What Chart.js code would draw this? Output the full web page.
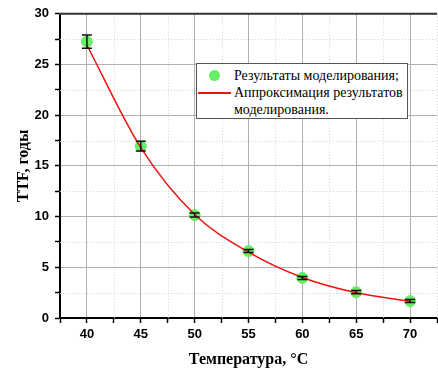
<!DOCTYPE html>
<html>
<head>
<meta charset="utf-8">
<script src="https://cdn.jsdelivr.net/npm/chart.js@4"></script>
<style>
  html, body { margin: 0; padding: 0; background: #fff; overflow: hidden; }
  #wrap { position: relative; width: 438px; height: 369px; overflow: hidden; }
  #myChart { position: absolute; left: 0; top: 0; }
  #legend {
    position: absolute; left: 196px; top: 63px; width: 210px; height: 54px;
    border: 1px solid #555; background: #fff;
    font-family: 'Liberation Serif', 'Times New Roman', serif; font-size: 14px; color: #000;
  }
  #legend .row { position: absolute; left: 37px; white-space: nowrap; line-height: 17px; }
  #legend .dot { position: absolute; left: 12px; top: 6px; width: 11px; height: 11px; border-radius: 50%; background: #66ee66; }
  #legend .line { position: absolute; left: 1px; top: 28px; width: 33px; height: 2px; background: #ee1111; }
</style>
</head>
<body>
<div id="wrap">
  <canvas id="myChart" width="441" height="369"></canvas>
  <div id="legend">
    <span class="dot"></span>
    <span class="line"></span>
    <div class="row" style="top:3px">Результаты моделирования;</div>
    <div class="row" style="top:20px">Аппроксимация результатов</div>
    <div class="row" style="top:37px">моделирования.</div>
  </div>
</div>
<script>
// temperature, °C
const temps = [40, 45, 50, 55, 60, 65, 70];
// simulated TTF, years, and half-width of the error bars
const ttf = [27.25, 16.95, 10.15, 6.6, 3.95, 2.55, 1.67];
const ttfErr = [0.65, 0.48, 0.2, 0.15, 0.15, 0.15, 0.15];
// approximation curve
const fitTTF = [26.9, 16.8, 10.2, 6.5, 4.0, 2.5, 1.65];

const ctx = document.getElementById('myChart');

const tickFont = { family: "'Liberation Sans', Arial, sans-serif", size: 13, weight: 'bold' };
const titleFont = { family: "'Liberation Serif', 'Times New Roman', serif", size: 16, weight: 'bold' };

const isMajor = v => Math.abs(v % 5) < 1e-6;

// dotted minor grid + top frame line
const frame = {
  id: 'frame',
  beforeDatasetsDraw(chart) {
    const { ctx, chartArea: a, scales } = chart;
    ctx.save();
    ctx.strokeStyle = '#d4d4d4';
    ctx.lineWidth = 1;
    ctx.setLineDash([1, 2]);
    scales.x.ticks.forEach(t => {
      if (isMajor(t.value) || t.value <= scales.x.min) return;
      const px = Math.round(scales.x.getPixelForValue(t.value)) + 0.5;
      ctx.beginPath(); ctx.moveTo(px, a.top); ctx.lineTo(px, a.bottom); ctx.stroke();
    });
    scales.y.ticks.forEach(t => {
      if (isMajor(t.value)) return;
      const py = Math.round(scales.y.getPixelForValue(t.value)) + 0.5;
      ctx.beginPath(); ctx.moveTo(a.left, py); ctx.lineTo(a.right, py); ctx.stroke();
    });
    ctx.setLineDash([]);
    ctx.strokeStyle = '#333';
    ctx.lineWidth = 2;
    ctx.beginPath(); ctx.moveTo(a.left - 1, a.top); ctx.lineTo(a.right, a.top); ctx.stroke();
    ctx.restore();
  }
};

// error bars on the simulated points
const errorBars = {
  id: 'errorBars',
  afterDatasetsDraw(chart) {
    const { ctx, scales } = chart;
    ctx.save();
    ctx.strokeStyle = '#111';
    ctx.lineWidth = 1.5;
    temps.forEach((t, i) => {
      const x = scales.x.getPixelForValue(t);
      const yHi = scales.y.getPixelForValue(ttf[i] + ttfErr[i]);
      const yLo = scales.y.getPixelForValue(ttf[i] - ttfErr[i]);
      ctx.beginPath();
      ctx.moveTo(x, yHi); ctx.lineTo(x, yLo);
      ctx.moveTo(x - 5, yHi); ctx.lineTo(x + 5, yHi);
      ctx.moveTo(x - 5, yLo); ctx.lineTo(x + 5, yLo);
      ctx.stroke();
    });
    ctx.restore();
  }
};

const data = {
  datasets: [{
    type: 'scatter',
    label: 'Результаты моделирования;',
    data: temps.map((t, i) => ({ x: t, y: ttf[i] })),
    backgroundColor: '#66ee66',
    borderColor: '#66ee66',
    pointRadius: 5.5,
    order: 2
  }, {
    type: 'line',
    label: 'Аппроксимация результатов моделирования.',
    data: temps.map((t, i) => ({ x: t, y: fitTTF[i] })),
    borderColor: '#ee1111',
    borderWidth: 1.5,
    pointRadius: 0,
    cubicInterpolationMode: 'monotone',
    fill: false,
    order: 1
  }]
};

const config = {
  type: 'scatter',
  data,
  options: {
    responsive: false,
    animation: false,
    layout: { padding: { top: 12, left: 0, right: 0, bottom: 0 }, autoPadding: false },
    plugins: { legend: { display: false }, tooltip: { enabled: false } },
    scales: {
      x: {
        type: 'linear',
        min: 37.5,
        max: 72.5,
        afterFit: s => { s.height = 51; },
        ticks: {
          stepSize: 2.5,
          autoSkip: false,
          maxRotation: 0,
          padding: 4,
          color: '#000',
          font: tickFont,
          callback: v => isMajor(v) ? v : ''
        },
        grid: {
          color: c => isMajor(c.tick.value) ? '#b0b0b0' : 'rgba(0,0,0,0)',
          tickColor: '#000',
          tickLength: 5,
          tickWidth: 1.5
        },
        border: { color: '#000', width: 2 },
        title: { display: true, text: 'Температура, °C', color: '#000', font: titleFont, padding: { top: 0, bottom: 0 } }
      },
      y: {
        min: 0,
        max: 30,
        afterFit: s => { s.width = 60; },
        ticks: {
          stepSize: 2.5,
          autoSkip: false,
          padding: 6,
          color: '#000',
          font: tickFont,
          callback: v => isMajor(v) ? v : ''
        },
        grid: {
          color: c => isMajor(c.tick.value) ? '#b0b0b0' : 'rgba(0,0,0,0)',
          tickColor: '#000',
          tickLength: 5,
          tickWidth: 1.5
        },
        border: { color: '#000', width: 2 },
        title: { display: true, text: 'TTF, годы', color: '#000', font: titleFont, padding: { top: 14, bottom: 0 } }
      }
    }
  },
  plugins: [frame, errorBars]
};

let myChart = new Chart(ctx, config);
</script>
</body>
</html>
